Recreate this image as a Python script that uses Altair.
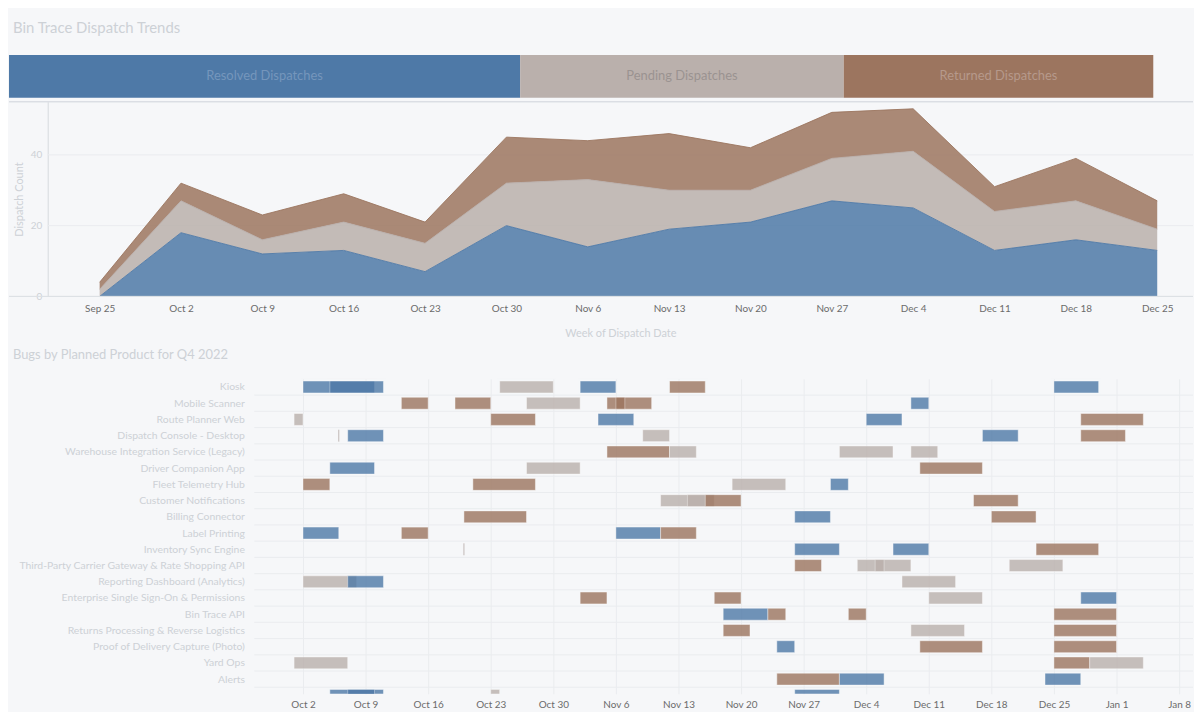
import json
import pandas as pd
import altair as alt

FONT = "Lato"
BG = "#f6f7f9"
GRID = "#eaecef"
BLUR = "#cdd1d6"
TICK_TEXT = "#6b6b6b"

# ---------------- data ----------------
categories = ["Resolved Dispatches", "Pending Dispatches", "Returned Dispatches"]
cat_colors = ["#4e79a7", "#bab0ac", "#9c755f"]
band_text_colors = ["#7596bc", "#9a9391", "#b6998b"]

week_starts = ["2022-09-25", "2022-10-02", "2022-10-09", "2022-10-16", "2022-10-23",
               "2022-10-30", "2022-11-06", "2022-11-13", "2022-11-20", "2022-11-27",
               "2022-12-04", "2022-12-11", "2022-12-18", "2022-12-25"]
resolved_counts = [0, 18, 12, 13, 7, 20, 14, 19, 21, 27, 25, 13, 16, 13]
pending_counts = [2, 9, 4, 8, 8, 12, 19, 11, 9, 12, 16, 11, 11, 6]
returned_counts = [2, 5, 7, 8, 6, 13, 11, 16, 12, 13, 12, 7, 12, 8]
count_ticks = [0, 20, 40]

gantt_ticks = ["2022-10-02", "2022-10-09", "2022-10-16", "2022-10-23", "2022-10-30",
               "2022-11-06", "2022-11-13", "2022-11-20", "2022-11-27", "2022-12-04",
               "2022-12-11", "2022-12-18", "2022-12-25", "2023-01-01", "2023-01-08"]

row_labels = [
    "Kiosk",
    "Mobile Scanner",
    "Route Planner Web",
    "Dispatch Console - Desktop",
    "Warehouse Integration Service (Legacy)",
    "Driver Companion App",
    "Fleet Telemetry Hub",
    "Customer Notifications",
    "Billing Connector",
    "Label Printing",
    "Inventory Sync Engine",
    "Third-Party Carrier Gateway & Rate Shopping API",
    "Reporting Dashboard (Analytics)",
    "Enterprise Single Sign-On & Permissions",
    "Bin Trace API",
    "Returns Processing & Reverse Logistics",
    "Proof of Delivery Capture (Photo)",
    "Yard Ops",
    "Alerts",
    "Admin Portal",
]

# category index: 0 = resolved (blue), 1 = pending (grey), 2 = returned (brown)
gantt_row = [1, 1, 1, 1, 1, 1,
             2, 2, 2, 2, 2, 2,
             3, 3, 3, 3, 3,
             4, 4, 4, 4, 4,
             5, 5, 5, 5,
             6, 6, 6,
             7, 7, 7, 7,
             8, 8, 8, 8,
             9, 9, 9,
             10, 10, 10, 10,
             11, 11, 11, 11,
             12, 12, 12, 12,
             13, 13, 13,
             14, 14, 14, 14,
             15, 15, 15, 15,
             16, 16, 16,
             17, 17, 17,
             18, 18, 18,
             19, 19, 19,
             20, 20, 20, 20]
gantt_cat = [0, 0, 1, 0, 2, 0,
             2, 2, 1, 2, 2, 0,
             1, 2, 0, 0, 2,
             1, 0, 1, 0, 2,
             2, 1, 1, 1,
             0, 1, 2,
             2, 2, 1, 0,
             1, 1, 2, 2,
             2, 0, 2,
             0, 2, 0, 2,
             1, 0, 0, 2,
             2, 1, 1, 1,
             1, 0, 1,
             2, 2, 1, 0,
             0, 2, 2, 2,
             2, 1, 2,
             0, 2, 2,
             1, 2, 1,
             2, 0, 0,
             0, 0, 1, 0]
gantt_start = ["2022-10-02", "2022-10-05", "2022-10-24", "2022-11-02", "2022-11-12", "2022-12-25",
               "2022-10-13", "2022-10-19", "2022-10-27", "2022-11-05", "2022-11-06", "2022-12-09",
               "2022-10-01", "2022-10-23", "2022-11-04", "2022-12-04", "2022-12-28",
               "2022-10-06", "2022-10-07", "2022-11-09", "2022-12-17", "2022-12-28",
               "2022-11-05", "2022-11-12", "2022-12-01", "2022-12-09",
               "2022-10-05", "2022-10-27", "2022-12-10",
               "2022-10-02", "2022-10-21", "2022-11-19", "2022-11-30",
               "2022-11-11", "2022-11-14", "2022-11-16", "2022-12-16",
               "2022-10-20", "2022-11-26", "2022-12-18",
               "2022-10-02", "2022-10-13", "2022-11-06", "2022-11-11",
               "2022-10-20", "2022-11-26", "2022-12-07", "2022-12-23",
               "2022-11-26", "2022-12-03", "2022-12-05", "2022-12-20",
               "2022-10-02", "2022-10-07", "2022-12-08",
               "2022-11-02", "2022-11-17", "2022-12-11", "2022-12-28",
               "2022-11-18", "2022-11-23", "2022-12-02", "2022-12-25",
               "2022-11-18", "2022-12-09", "2022-12-25",
               "2022-11-24", "2022-12-10", "2022-12-25",
               "2022-10-01", "2022-12-25", "2022-12-29",
               "2022-11-24", "2022-12-01", "2022-12-24",
               "2022-10-05", "2022-10-07", "2022-10-23", "2022-11-26"]
gantt_end = ["2022-10-10", "2022-10-11", "2022-10-30", "2022-11-06", "2022-11-16", "2022-12-30",
             "2022-10-16", "2022-10-23", "2022-11-02", "2022-11-10", "2022-11-07", "2022-12-11",
             "2022-10-02", "2022-10-28", "2022-11-08", "2022-12-08", "2023-01-04",
             "2022-10-06", "2022-10-11", "2022-11-12", "2022-12-21", "2023-01-02",
             "2022-11-12", "2022-11-15", "2022-12-07", "2022-12-12",
             "2022-10-10", "2022-11-02", "2022-12-17",
             "2022-10-05", "2022-10-28", "2022-11-25", "2022-12-02",
             "2022-11-16", "2022-11-17", "2022-11-20", "2022-12-21",
             "2022-10-27", "2022-11-30", "2022-12-23",
             "2022-10-06", "2022-10-16", "2022-11-11", "2022-11-15",
             "2022-10-20", "2022-12-01", "2022-12-11", "2022-12-30",
             "2022-11-29", "2022-12-09", "2022-12-06", "2022-12-26",
             "2022-10-08", "2022-10-11", "2022-12-14",
             "2022-11-05", "2022-11-20", "2022-12-17", "2023-01-01",
             "2022-11-23", "2022-11-25", "2022-12-04", "2023-01-01",
             "2022-11-21", "2022-12-15", "2023-01-01",
             "2022-11-26", "2022-12-17", "2023-01-01",
             "2022-10-07", "2022-12-29", "2023-01-04",
             "2022-12-01", "2022-12-06", "2022-12-28",
             "2022-10-11", "2022-10-10", "2022-10-24", "2022-12-01"]

# ---------------- helpers ----------------
def dt(s, h=0, m=0):
    y, mo, d = (int(v) for v in s.split("-"))
    return alt.DateTime(year=y, month=mo, date=d, hours=h, minutes=m)

color_scale = alt.Scale(domain=categories, range=cat_colors)

# ---------------- tables ----------------
series = [resolved_counts, pending_counts, returned_counts]
area_rows = []
for ci, vals in enumerate(series):
    for w, v in zip(week_starts, vals):
        area_rows.append({"week": w + "T00:00:00", "category": categories[ci],
                          "order": ci, "value": v, "text_color": band_text_colors[ci]})
area_df = pd.DataFrame(area_rows)
hgrid_df = pd.DataFrame({"value": [t for t in count_ticks if t > 0]})

gantt_df = pd.DataFrame({
    "row": gantt_row,
    "category": [categories[c] for c in gantt_cat],
    "start": [s + "T00:00:00" for s in gantt_start],
    "end": [e + "T00:00:00" for e in gantt_end],
})
gantt_df["point"] = gantt_df["start"] == gantt_df["end"]
sep_df = pd.DataFrame({"row": [k + 0.5 for k in range(1, len(row_labels))]})

# ---------------- layout constants ----------------
FULL_W = 1192          # whole drawing width (page x 8 .. 1200)
AREA_LEFT = 39         # area plot starts here
GANTT_LEFT = 247       # gantt plot starts here
BAND_W, BAND_H = 1152, 43
AREA_PLOT_H = 196
AREA_BLOCK_H = 275     # area plot + room for its axis below
GANTT_H = 317
SPACING = 4

# ---------------- band (share of totals) ----------------
band_base = alt.Chart(area_df).transform_aggregate(
    total="sum(value)", groupby=["category", "order", "text_color"]
).transform_window(
    cum="sum(total)", sort=[alt.SortField("order", order="ascending")], frame=[None, 0]
).transform_joinaggregate(
    grand="sum(total)"
).transform_calculate(
    f0="(datum.cum - datum.total) / datum.grand",
    f1="datum.cum / datum.grand",
    fm="(datum.cum - datum.total / 2) / datum.grand",
)
frac = alt.Scale(domain=[0, 1], nice=False, zero=False, range=[0, BAND_W])
band_rect = band_base.mark_rect().encode(
    x=alt.X("f0:Q", scale=frac, axis=None),
    x2="f1:Q",
    y=alt.value(0),
    y2=alt.value(BAND_H),
    color=alt.Color("category:N", scale=color_scale, legend=None),
)
band_text = band_base.mark_text(font=FONT, fontSize=13).encode(
    x=alt.X("fm:Q", scale=frac, axis=None),
    y=alt.value(BAND_H / 2),
    text="category:N",
    color=alt.Color("text_color:N", scale=None, legend=None),
)
band = alt.layer(band_rect, band_text).resolve_scale(color="independent").properties(
    width=FULL_W, height=BAND_H,
    title=alt.TitleParams("Bin Trace Dispatch Trends", anchor="start", fontSize=15,
                          font=FONT, fontWeight="normal", color=BLUR, offset=19, dx=4),
)

# ---------------- stacked area ----------------
area_x = alt.X(
    "week:T",
    scale=alt.Scale(domain=[dt("2022-09-20", 12, 47), dt("2022-12-28", 1, 54)],
                    range=[AREA_LEFT, FULL_W]),
    axis=alt.Axis(values=[dt(w) for w in week_starts], format="%b %-d", labelFont=FONT,
                  labelFontSize=10, labelColor=TICK_TEXT, ticks=False, tickSize=0,
                  labelPadding=7, labelFlush=False, domain=False, grid=False,
                  offset=AREA_PLOT_H - AREA_BLOCK_H,
                  title="Week of Dispatch Date", titleFont=FONT, titleFontSize=11,
                  titleFontWeight="normal", titleColor=BLUR, titlePadding=14),
)
area_yscale = alt.Scale(domain=[0, 55], nice=False, range=[AREA_PLOT_H, 0])
area_yaxis = alt.Axis(values=count_ticks, labelFont=FONT, labelFontSize=10, labelColor=BLUR,
                      ticks=False, tickSize=0, labelPadding=6, offset=-AREA_LEFT,
                      domain=True, domainColor="#d6dadf", grid=False,
                      title="Dispatch Count", titleFont=FONT, titleFontSize=11,
                      titleFontWeight="normal", titleColor=BLUR, titlePadding=6)
hgrid = alt.Chart(hgrid_df).mark_rule(color=GRID, strokeWidth=1).encode(
    y=alt.Y("value:Q", scale=area_yscale, axis=area_yaxis),
    x=alt.value(AREA_LEFT), x2=alt.value(FULL_W),
)
area_mark = alt.Chart(area_df).mark_area(
    opacity=0.85, line=alt.OverlayMarkDef(strokeWidth=1, opacity=0.9)
).encode(
    x=area_x,
    y=alt.Y("value:Q", stack="zero", scale=area_yscale, axis=area_yaxis),
    color=alt.Color("category:N", scale=color_scale, legend=None),
    order=alt.Order("order:Q", sort="ascending"),
)
frame_top = alt.Chart(hgrid_df).mark_rule(color="#d9dde2", strokeWidth=1).encode(
    x=alt.value(0), x2=alt.value(FULL_W), y=alt.value(0)
)
frame_bottom = alt.Chart(hgrid_df).mark_rule(color="#dde1e5", strokeWidth=1).encode(
    x=alt.value(0), x2=alt.value(FULL_W), y=alt.value(AREA_PLOT_H)
)
area = alt.layer(hgrid, area_mark, frame_top, frame_bottom).properties(
    width=FULL_W, height=AREA_BLOCK_H
)

# ---------------- gantt ----------------
gx_scale = alt.Scale(domain=[dt("2022-09-26", 13, 20), dt("2023-01-09", 13, 20)],
                     range=[GANTT_LEFT, FULL_W])
gx_axis = alt.Axis(values=[dt(t) for t in gantt_ticks], format="%b %-d", labelFont=FONT,
                   labelFontSize=10, labelColor=TICK_TEXT, ticks=False, tickSize=0,
                   labelPadding=6, labelFlush=False, domain=False, grid=True,
                   gridColor=GRID, title=None)
gy_scale = alt.Scale(domain=[0.5, 19.9], reverse=True, nice=False, zero=False)
label_expr = json.dumps(row_labels) + "[datum.value - 1]"
gy_axis = alt.Axis(values=list(range(1, 20)), labelExpr=label_expr, labelFont=FONT,
                   labelFontSize=10.5, labelColor=BLUR, labelLimit=232, labelPadding=10,
                   ticks=False, tickSize=0, domain=False, grid=False, title=None,
                   offset=-GANTT_LEFT)

gbase = alt.Chart(gantt_df).transform_calculate(
    y0="datum.row - 0.367", y1="datum.row + 0.367"
)
bars = gbase.mark_rect(opacity=0.8, stroke="#ffffff", strokeWidth=0.8,
                       strokeOpacity=0.55, clip=True).encode(
    x=alt.X("start:T", scale=gx_scale, axis=gx_axis),
    x2="end:T",
    y=alt.Y("y0:Q", scale=gy_scale, axis=gy_axis),
    y2="y1:Q",
    color=alt.Color("category:N", scale=color_scale, legend=None),
)
seps = alt.Chart(sep_df).mark_rule(color=GRID, strokeWidth=1).encode(
    y=alt.Y("row:Q", scale=gy_scale, axis=gy_axis),
    x=alt.value(GANTT_LEFT), x2=alt.value(FULL_W),
)
points = gbase.transform_filter("datum.point").mark_rule(
    strokeWidth=1, opacity=0.9, clip=True
).encode(
    x=alt.X("start:T", scale=gx_scale, axis=gx_axis),
    y=alt.Y("y0:Q", scale=gy_scale, axis=gy_axis),
    y2="y1:Q",
    color=alt.Color("category:N", scale=color_scale, legend=None),
)
gantt = alt.layer(seps, bars, points).properties(
    width=FULL_W, height=GANTT_H,
    title=alt.TitleParams("Bugs by Planned Product for Q4 2022", anchor="start",
                          fontSize=13, font=FONT, fontWeight="normal", color=BLUR,
                          offset=17, dx=4),
)

chart = alt.vconcat(band, area, gantt, spacing=SPACING, bounds="flush").properties(
    padding={"left": 0, "top": 11, "right": 0, "bottom": 0},
    background=BG,
).configure(font=FONT).configure_view(strokeWidth=0, stroke="transparent")

chart.save("out.html", embed_options={"renderer": "svg", "actions": False})
